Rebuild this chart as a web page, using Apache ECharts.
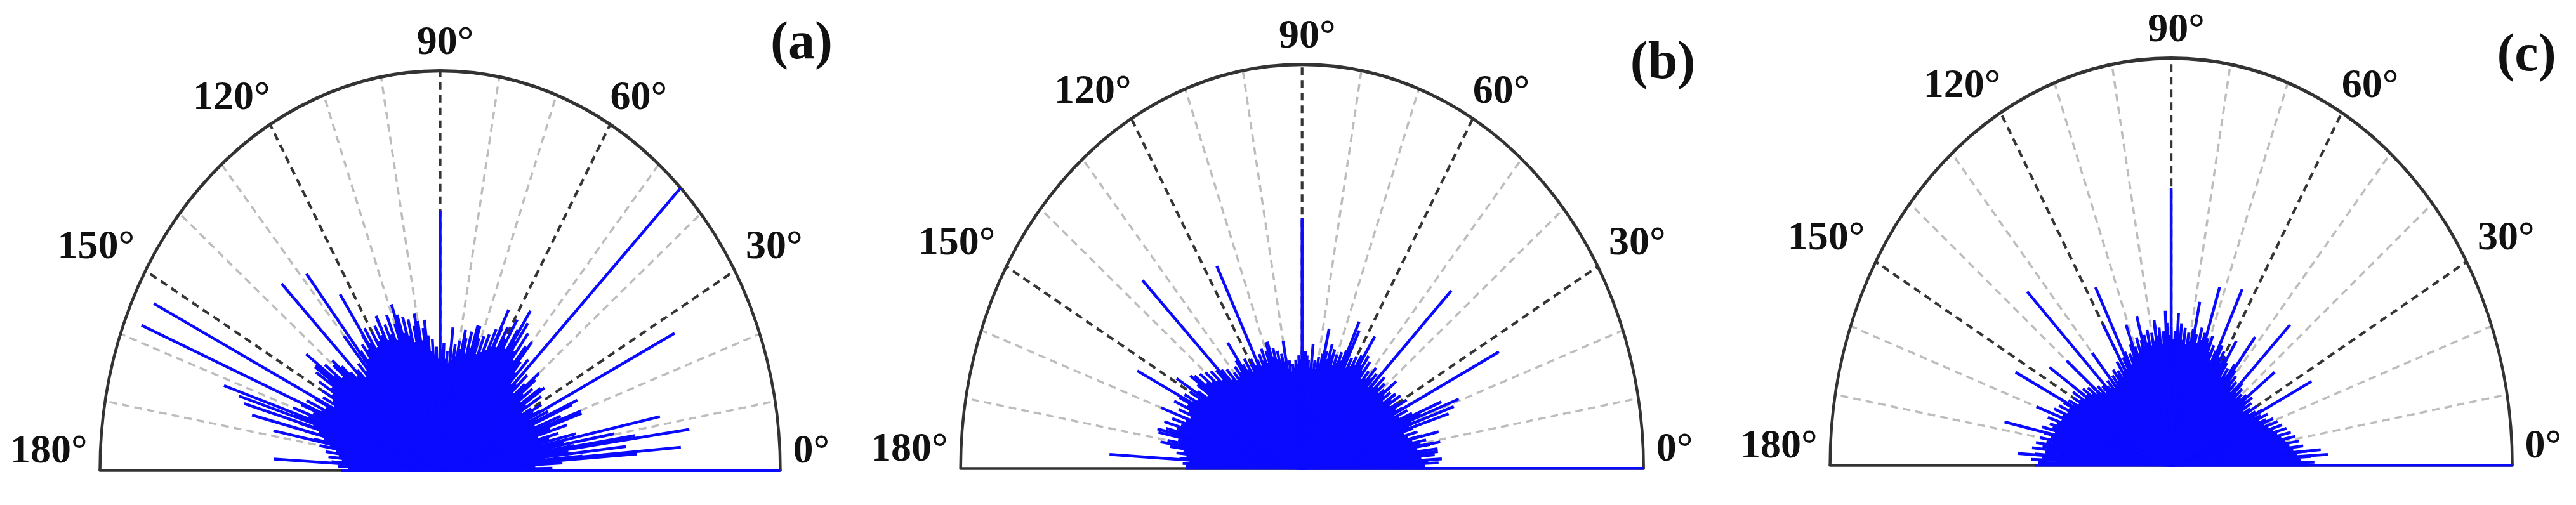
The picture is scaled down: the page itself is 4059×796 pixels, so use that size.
<!DOCTYPE html>
<html>
<head>
<meta charset="utf-8">
<script src="https://cdn.jsdelivr.net/npm/echarts@6/dist/echarts.min.js"></script>
<style>
html,body{margin:0;padding:0;background:#ffffff;}
#chart{width:4059px;height:796px;}
</style>
</head>
<body>
<div id="chart"></div>
<script>
// ---------- data ----------
const panelNames = ['(a)', '(b)', '(c)'];
const tickAngles = [0, 30, 60, 90, 120, 150, 180];
const tickLabels = ['0°', '30°', '60°', '90°', '120°', '150°', '180°'];
const gridAngles = [10, 20, 30, 40, 50, 60, 70, 80, 90, 100, 110, 120, 130, 140, 150, 160, 170];

// dense core: one stem per degree (index = angle in degrees), length relative to outer radius
const coreA = [
  0.30,0.33,0.28,0.36,0.30,0.42,0.31,0.38,0.34,0.40,
  0.32,0.37,0.30,0.41,0.33,0.36,0.30,0.39,0.34,0.44,
  0.32,0.38,0.30,0.42,0.31,0.35,0.29,0.33,0.30,0.34,
  0.31,0.28,0.35,0.30,0.37,0.32,0.29,0.34,0.31,0.36,
  0.30,0.33,0.29,0.35,0.31,0.34,0.30,0.38,0.33,0.36,
  0.32,0.40,0.35,0.43,0.37,0.45,0.39,0.42,0.36,0.44,
  0.38,0.41,0.35,0.40,0.34,0.39,0.33,0.37,0.32,0.36,
  0.31,0.35,0.33,0.38,0.32,0.36,0.30,0.34,0.36,0.31,
  0.33,0.29,0.32,0.28,0.31,0.27,0.30,0.28,0.32,0.29,
  0.30,0.28,0.31,0.29,0.33,0.30,0.34,0.31,0.36,0.33,
  0.38,0.34,0.37,0.33,0.39,0.35,0.40,0.36,0.41,0.37,
  0.39,0.35,0.42,0.37,0.40,0.36,0.43,0.38,0.41,0.37,
  0.40,0.36,0.42,0.38,0.41,0.37,0.39,0.35,0.38,0.34,
  0.37,0.33,0.36,0.32,0.35,0.31,0.34,0.36,0.39,0.35,
  0.41,0.37,0.43,0.39,0.45,0.40,0.44,0.38,0.42,0.37,
  0.40,0.36,0.39,0.35,0.41,0.37,0.43,0.38,0.44,0.40,
  0.46,0.41,0.45,0.39,0.43,0.37,0.41,0.35,0.38,0.33,
  0.36,0.31,0.34,0.30,0.33,0.29,0.32,0.28,0.30,0.27,
  0.29
];
const coreB = [
  0.38,0.36,0.40,0.37,0.35,0.39,0.36,0.40,0.34,0.38,
  0.35,0.37,0.33,0.36,0.32,0.35,0.31,0.34,0.33,0.36,
  0.34,0.37,0.33,0.35,0.31,0.34,0.30,0.33,0.31,0.35,
  0.32,0.30,0.34,0.31,0.33,0.29,0.32,0.30,0.34,0.31,
  0.29,0.32,0.30,0.33,0.29,0.31,0.28,0.32,0.30,0.33,
  0.29,0.31,0.28,0.33,0.30,0.34,0.31,0.29,0.33,0.30,
  0.32,0.29,0.31,0.28,0.33,0.30,0.32,0.29,0.31,0.28,
  0.30,0.27,0.31,0.29,0.32,0.28,0.30,0.27,0.29,0.26,
  0.28,0.25,0.27,0.24,0.26,0.25,0.27,0.28,0.29,0.27,
  0.29,0.27,0.28,0.26,0.27,0.25,0.26,0.24,0.27,0.25,
  0.28,0.26,0.29,0.27,0.30,0.28,0.31,0.29,0.33,0.30,
  0.31,0.28,0.32,0.29,0.31,0.28,0.30,0.27,0.29,0.31,
  0.30,0.28,0.32,0.29,0.31,0.28,0.33,0.30,0.32,0.29,
  0.31,0.29,0.33,0.30,0.34,0.31,0.35,0.32,0.36,0.33,
  0.37,0.34,0.38,0.35,0.39,0.34,0.37,0.33,0.36,0.34,
  0.38,0.35,0.39,0.36,0.40,0.37,0.41,0.36,0.39,0.35,
  0.38,0.36,0.40,0.37,0.42,0.38,0.41,0.39,0.43,0.37,
  0.40,0.36,0.39,0.35,0.37,0.34,0.36,0.33,0.35,0.34,
  0.34
];
const coreC = [
  0.40,0.42,0.38,0.41,0.37,0.40,0.36,0.39,0.35,0.38,
  0.34,0.37,0.33,0.36,0.32,0.35,0.31,0.34,0.30,0.33,
  0.29,0.32,0.30,0.28,0.31,0.29,0.27,0.30,0.28,0.26,
  0.29,0.27,0.25,0.28,0.26,0.29,0.27,0.25,0.28,0.26,
  0.27,0.25,0.28,0.26,0.29,0.27,0.25,0.28,0.26,0.29,
  0.27,0.30,0.28,0.31,0.27,0.29,0.26,0.30,0.28,0.31,
  0.29,0.32,0.30,0.33,0.29,0.31,0.28,0.32,0.30,0.34,
  0.31,0.33,0.30,0.34,0.32,0.35,0.31,0.33,0.30,0.34,
  0.31,0.33,0.30,0.34,0.31,0.35,0.32,0.30,0.33,0.31,
  0.34,0.32,0.35,0.31,0.33,0.30,0.34,0.32,0.35,0.31,
  0.33,0.30,0.34,0.31,0.33,0.29,0.32,0.30,0.33,0.29,
  0.31,0.28,0.32,0.29,0.30,0.27,0.31,0.28,0.30,0.27,
  0.29,0.27,0.30,0.26,0.28,0.27,0.29,0.26,0.28,0.25,
  0.27,0.25,0.28,0.26,0.27,0.25,0.28,0.26,0.29,0.27,
  0.30,0.28,0.31,0.29,0.32,0.30,0.33,0.30,0.34,0.31,
  0.33,0.31,0.34,0.32,0.35,0.33,0.36,0.33,0.37,0.34,
  0.36,0.34,0.38,0.35,0.37,0.36,0.39,0.35,0.38,0.36,
  0.39,0.37,0.40,0.38,0.41,0.37,0.40,0.38,0.41,0.39,
  0.40
];

// long individual stems: [angle in degrees, length relative to outer radius]
const spikesA = [
  [0,1.0],[45,1.0],[90,0.65],[153.6,0.94],[157.5,0.95],
  [161.5,0.67],[162.5,0.62],[163.8,0.60],[165.9,0.57],[168.5,0.50],[176.6,0.49],
  [134.9,0.66],[128.6,0.63],[123.7,0.53],[116,0.43],[109,0.44],[106.5,0.35],
  [143.5,0.49],[144.8,0.45],[130,0.44],[139,0.42],
  [26.5,0.77],[63.4,0.45],[56.4,0.48],[59.5,0.38],[77.9,0.35],[72,0.38],
  [11.8,0.66],[8.0,0.74],[4.7,0.71],[4.1,0.58],[8.7,0.58],[6.3,0.55],[10.2,0.52],
  [19.8,0.44],[23.6,0.44],[27.7,0.31],[35,0.36],[40,0.38],[50,0.42],[84,0.36],[97,0.38],[101,0.40]
];
const spikesB = [
  [0,1.0],[90,0.62],[116.5,0.56],[135.1,0.66],[153.4,0.54],[176.5,0.565],
  [167,0.435],[148.8,0.43],[145,0.40],[160,0.44],[171,0.42],
  [45.2,0.62],[26.6,0.645],[20.5,0.49],[19,0.47],[17.5,0.45],[22,0.44],
  [12.8,0.41],[9.2,0.41],[3.3,0.41],[6,0.40],
  [77.1,0.355],[63.9,0.38],[56.9,0.39],[65.3,0.40],[108.8,0.33],[33.9,0.33],[38,0.35],[125,0.38],[100,0.32],[84,0.31]
];
const spikesC = [
  [0,1.0],[90,0.68],[134.7,0.60],[116.9,0.49],[153.4,0.51],[167.7,0.50],[176.3,0.45],
  [146,0.43],[140,0.40],[130,0.36],[160,0.42],[120,0.40],
  [72,0.46],[64.3,0.48],[78.2,0.41],[44.7,0.49],[26.6,0.46],[3.3,0.46],[5,0.44],
  [92.6,0.38],[105.4,0.38],[111,0.37],[86.7,0.375],[70,0.32],[37,0.38],[52,0.40],[58,0.36],[98,0.36]
];

// ---------- layout & style ----------
const panels = [
  {name: panelNames[0], core: coreA, spikes: spikesA, grid: {left: 157.5, top: 111.7, width: 1072, height: 630}, tag: [1263, 70]},
  {name: panelNames[1], core: coreB, spikes: spikesB, grid: {left: 1513.7, top: 101.7, width: 1076, height: 636.6}, tag: [2620, 101]},
  {name: panelNames[2], core: coreC, spikes: spikesC, grid: {left: 2883.6, top: 91.7, width: 1075, height: 641.6}, tag: [3981, 89]}
];
const SERIF = '"Liberation Serif", "DejaVu Serif", serif';
const RAD = Math.PI / 180;

function stemItem(params, api) {
  const a = api.value(0) * RAD, r = api.value(1);
  const p0 = api.coord([0, 0]);
  const p1 = api.coord([r * Math.cos(a), r * Math.sin(a)]);
  return {type: 'line', shape: {x1: p0[0], y1: p0[1], x2: p1[0], y2: p1[1]},
    style: {stroke: '#0a0aff', lineWidth: 4.5, fill: 'none'}};
}
function gridLineItem(params, api) {
  const deg = api.value(0), a = deg * RAD;
  const p0 = api.coord([0, 0]);
  const p1 = api.coord([Math.cos(a), Math.sin(a)]);
  const major = deg % 30 === 0;
  return {type: 'line', shape: {x1: p0[0], y1: p0[1], x2: p1[0], y2: p1[1]},
    style: {stroke: major ? '#353535' : '#bdbdbd', lineWidth: major ? 4.2 : 3.5, lineDash: [12, 8], fill: 'none'}};
}
function frameItem(params, api) {
  const c = api.coord([0, 0]);
  const sz = api.size([1, 1]);
  return {type: 'arc', x: c[0], y: c[1], scaleX: 1, scaleY: sz[1] / sz[0],
    shape: {cx: 0, cy: 0, r: sz[0], startAngle: Math.PI, endAngle: 2 * Math.PI, clockwise: true},
    style: {stroke: '#333333', lineWidth: 4.5, fill: 'none', strokeNoScale: true}};
}
function labelItem(params, api) {
  const deg = api.value(0), a = deg * RAD;
  const c = Math.cos(a), s = Math.sin(a);
  const p = api.coord([c, s]);
  const k = Math.min(1, Math.max(0, (Math.abs(c) - 0.5) * 4));
  const dx = 20 * c * k + (Math.abs(c) < 0.01 ? 8 : 0), dy = -(29 + 14 * s);
  const align = c > 0.01 ? 'left' : (c < -0.01 ? 'right' : 'center');
  return {type: 'text', x: p[0] + dx, y: p[1] + dy,
    style: {text: tickLabels[params.dataIndex], font: 'bold 64px ' + SERIF, fill: '#111111',
      textAlign: align, textVerticalAlign: 'middle'}};
}

const option = {
  backgroundColor: '#ffffff',
  animation: false,
  title: panels.map(p => ({
    text: p.name, left: p.tag[0], top: p.tag[1], textAlign: 'center', textVerticalAlign: 'middle', padding: 0,
    textStyle: {fontFamily: SERIF, fontWeight: 'bold', fontSize: 84, color: '#111111'}
  })),
  grid: panels.map(p => Object.assign({outerBoundsMode: 'none', containLabel: false, show: false}, p.grid)),
  xAxis: panels.map((p, i) => ({
    gridIndex: i, type: 'value', min: -1, max: 1,
    axisLine: {show: true, onZero: false, lineStyle: {color: '#333333', width: 4.5}},
    axisTick: {show: false}, axisLabel: {show: false}, splitLine: {show: false}
  })),
  yAxis: panels.map((p, i) => ({gridIndex: i, type: 'value', min: 0, max: 1, show: false, splitLine: {show: false}})),
  series: []
};

panels.forEach((p, i) => {
  option.series.push({
    type: 'custom', xAxisIndex: i, yAxisIndex: i, z: 1, silent: true,
    renderItem: gridLineItem, data: gridAngles.map(a => [a, 0])
  });
  option.series.push({
    type: 'custom', xAxisIndex: i, yAxisIndex: i, z: 2, silent: true,
    renderItem: frameItem, data: [[0, 0]]
  });
  const stems = p.core.map((len, deg) => [deg, len]).concat(p.spikes);
  option.series.push({
    type: 'custom', xAxisIndex: i, yAxisIndex: i, z: 3, silent: true,
    renderItem: stemItem, data: stems
  });
  option.series.push({
    type: 'custom', xAxisIndex: i, yAxisIndex: i, z: 4, silent: true,
    renderItem: labelItem, data: tickAngles.map(a => [a, 0])
  });
});

const chart = echarts.init(document.getElementById('chart'), null, {renderer: 'canvas'});
chart.setOption(option);
</script>
</body>
</html>
